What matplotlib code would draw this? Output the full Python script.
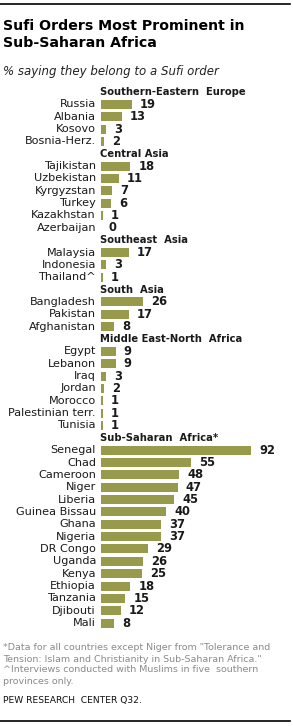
import matplotlib
matplotlib.use("Agg")
import matplotlib.pyplot as plt
from matplotlib.lines import Line2D

plt.rcParams['font.family'] = ['DejaVu Sans']

regions = ["Southern-Eastern  Europe", "Central Asia", "Southeast  Asia", "South  Asia",
           "Middle East-North  Africa", "Sub-Saharan  Africa*"]
europe = ["Russia", "Albania", "Kosovo", "Bosnia-Herz."]
europe_vals = [19, 13, 3, 2]
central_asia = ["Tajikistan", "Uzbekistan", "Kyrgyzstan", "Turkey", "Kazakhstan", "Azerbaijan"]
central_asia_vals = [18, 11, 7, 6, 1, 0]
southeast_asia = ["Malaysia", "Indonesia", "Thailand^"]
southeast_asia_vals = [17, 3, 1]
south_asia = ["Bangladesh", "Pakistan", "Afghanistan"]
south_asia_vals = [26, 17, 8]
mena = ["Egypt", "Lebanon", "Iraq", "Jordan", "Morocco", "Palestinian terr.", "Tunisia"]
mena_vals = [9, 9, 3, 2, 1, 1, 1]
ssa = ["Senegal", "Chad", "Cameroon", "Niger", "Liberia", "Guinea Bissau", "Ghana", "Nigeria",
       "DR Congo", "Uganda", "Kenya", "Ethiopia", "Tanzania", "Djibouti", "Mali"]
ssa_vals = [92, 55, 48, 47, 45, 40, 37, 37, 29, 26, 25, 18, 15, 12, 8]

groups = [(regions[0], europe, europe_vals), (regions[1], central_asia, central_asia_vals),
          (regions[2], southeast_asia, southeast_asia_vals), (regions[3], south_asia, south_asia_vals),
          (regions[4], mena, mena_vals), (regions[5], ssa, ssa_vals)]

W, H = 293, 726
fig = plt.figure(figsize=(W / 100, H / 100), dpi=100)

bar_color = "#979a4b"
text_color = "#1a1a1a"

n_slots = sum(1 + len(c) for _, c, _ in groups)
top_px = 92 - 6.2
bot_px = 92 + 12.35 * (n_slots - 1) + 6.2
left_px = 101
unit_px = 1.63
ax = fig.add_axes([left_px / W, 1 - bot_px / H, 100 * unit_px / W, (bot_px - top_px) / H])
ax.set_xlim(0, 100)
ax.set_ylim(n_slots - 0.5, -0.5)
ax.axis("off")

slot = 0
for header, countries, vals in groups:
    ax.text(-0.6, slot, header, ha="left", va="center", fontsize=7.2, fontweight="bold",
            color=text_color)
    slot += 1
    for c, v in zip(countries, vals):
        ax.barh(slot, v, height=0.73, color=bar_color, left=0)
        ax.text(-3.1, slot, c, ha="right", va="center", fontsize=8.1, color=text_color)
        ax.text(v + 4.9, slot, str(v), ha="left", va="center", fontsize=8.3,
                fontweight="bold", color=text_color)
        slot += 1

# Title and subtitle
fig.text(3 / W, 1 - 19.5 / H, "Sufi Orders Most Prominent in\nSub-Saharan Africa", ha="left",
         va="top", fontsize=10.2, fontweight="bold", color="#000000", linespacing=1.2)
fig.text(3 / W, 1 - 72 / H, "% saying they belong to a Sufi order", ha="left", va="center",
         fontsize=8.5, style="italic", color="#222222")

# Footnotes
notes = ['*Data for all countries except Niger from "Tolerance and',
         'Tension: Islam and Christianity in Sub-Saharan Africa."',
         '^Interviews conducted with Muslims in five  southern',
         'provinces only.']
for i, line in enumerate(notes):
    fig.text(3 / W, 1 - (648 + 11 * i) / H, line, ha="left", va="center", fontsize=6.8,
             color="#8a8a8a")
fig.text(3 / W, 1 - 700 / H, "PEW RESEARCH  CENTER Q32.", ha="left", va="center",
         fontsize=6.6, color="#111111")

# Rules
fig.add_artist(Line2D([0, 290 / W], [1 - 3.5 / H, 1 - 3.5 / H], color="black", lw=1.2))
fig.add_artist(Line2D([0, 290 / W], [1 - 720.5 / H, 1 - 720.5 / H], color="black", lw=1.2))

fig.savefig("out.png", dpi=100, facecolor="white")
